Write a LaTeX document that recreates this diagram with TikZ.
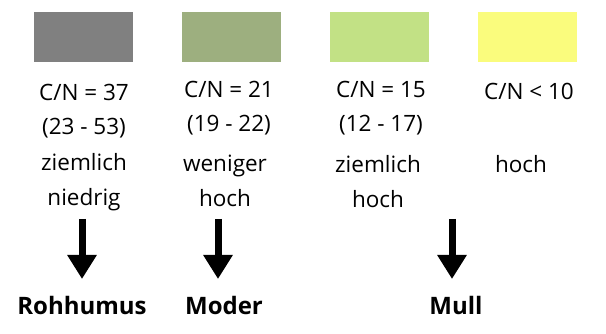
\documentclass[tikz,border=0pt]{standalone}
\usepackage{fontspec}
\setmainfont{Open Sans}
\usetikzlibrary{arrows.meta,positioning,calc}

\definecolor{rohgray}{HTML}{808080}
\definecolor{modergreen}{HTML}{9DAF7F}
\definecolor{mullgreen}{HTML}{C2E185}
\definecolor{mullyellow}{HTML}{FAFC7D}

\begin{document}
\begin{tikzpicture}[x=1pt, y=-1pt, align=center]

%local definitions
\tikzstyle{Swatch} = [rectangle, inner sep=0pt, minimum width=99pt, minimum height=50pt]
\tikzstyle{Ratio} = [inner sep=0pt, font=\fontsize{22.5}{34}\selectfont]
\tikzstyle{Rate} = [inner sep=0pt, font=\fontsize{22.5}{35}\selectfont]
\tikzstyle{Humus} = [inner sep=0pt, font=\fontsize{24}{24}\selectfont\bfseries]
\tikzstyle{Down} = [line width=7pt, -{Triangle[width=28pt, length=24pt]}]

\useasboundingbox (0,0) rectangle (606,334);

%main loop
	\node [Swatch, fill=rohgray] (swRoh) at (83.5,37) {};
	\node [Swatch, fill=modergreen] (swModer) at (231.5,37) {};
	\node [Swatch, fill=mullgreen] (swMull) at (379.5,37) {};
	\node [Swatch, fill=mullyellow] (swHigh) at (527,37) {};

	\node [Ratio] (cnRoh) at (84,111) {C/N = 37\\(23 - 53)};
	\node [Ratio] (cnModer) at (229,108) {C/N = 21\\(19 - 22)};
	\node [Ratio] (cnMull) at (381,108) {C/N = 15\\(12 - 17)};
	\node [Ratio] (cnHigh) at (529,91) {C/N < 10};

	\node [Rate] (rtRoh) at (84,182) {ziemlich\\niedrig};
	\node [Rate] (rtModer) at (225,181) {weniger\\hoch};
	\node [Rate] (rtMull) at (378,182) {ziemlich\\hoch};
	\node [Rate] (rtHigh) at (521,164) {hoch};

	\node [Humus] (Rohhumus) at (82,305) {Rohhumus};
	\node [Humus] (Moder) at (224,305) {Moder};
	\node [Humus] (Mull) at (456,305) {Mull};

	\coordinate (startRoh) at (82,219);
	\coordinate (startModer) at (218,219);
	\coordinate (startMull) at (452,219);

%connections
	\draw [Down] (startRoh) -- (startRoh |- 0,279);
	\draw [Down] (startModer) -- (startModer |- 0,279);
	\draw [Down] (startMull) -- (startMull |- 0,279);

\end{tikzpicture}
\end{document}
